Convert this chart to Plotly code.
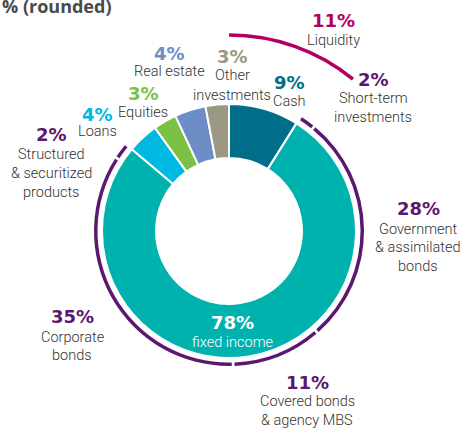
import plotly.graph_objects as go

W, H = 460, 431

# ---------------- data ----------------
slice_names = ["Cash", "Fixed income", "Loans", "Equities", "Real estate", "Other investments"]
slice_values = [9, 78, 4, 3, 4, 3]

fi_names = ["Short-term investments", "Government & assimilated bonds",
            "Covered bonds & agency MBS", "Corporate bonds",
            "Structured & securitized products"]
fi_values = [2, 28, 11, 35, 2]

liquidity_name = "Liquidity"
liquidity_value = 11
fixed_income_label = "fixed income"
title_text = "% (rounded)"

# ---------------- styles ----------------
slice_colors = ["#006e88", "#00b2ae", "#00b9e3", "#7bc143", "#6d8dc6", "#9b9883"]
purple = "#5c176e"
magenta = "#b1005f"
text_gray = "#333333"
pct_font = "DejaVu Sans"
desc_font = "Roboto, sans-serif"
desc_size = 14.5

cx, cy, Rpx = 229, 231, 200
r_in, r_out = 73, 127
arc_base, arc_w = 131.5, 3.5
liq_base = 194.3
gap = 1.2

total = sum(slice_values)
deg = 360.0 / total

# slice angles
starts, acc = [], 0
for v in slice_values:
    starts.append(acc * deg)
    acc += v
theta_c = [s + v * deg / 2 for s, v in zip(starts, slice_values)]
widths = [v * deg for v in slice_values]

# fixed income sub-arcs
fi_starts, acc = [], slice_values[0]
for v in fi_values:
    fi_starts.append(acc * deg)
    acc += v
fi_theta = [s + v * deg / 2 for s, v in zip(fi_starts, fi_values)]
fi_width = [v * deg - gap for v in fi_values]

fig = go.Figure()
fig.add_trace(go.Barpolar(
    theta=theta_c, width=widths, r=[r_out - r_in] * len(slice_values),
    base=[r_in] * len(slice_values),
    marker=dict(color=slice_colors, line=dict(color="white", width=2)),
    hoverinfo="skip", name="slices"))
fig.add_trace(go.Barpolar(
    theta=fi_theta, width=fi_width, r=[arc_w] * len(fi_values),
    base=[arc_base] * len(fi_values),
    marker=dict(color=purple, line=dict(width=0)),
    hoverinfo="skip", name="fixed income"))
fig.add_trace(go.Barpolar(
    theta=[liquidity_value * deg / 2], width=[liquidity_value * deg],
    r=[arc_w], base=[liq_base],
    marker=dict(color=magenta, line=dict(width=0)),
    hoverinfo="skip", name="liquidity"))

# ---------------- labels ----------------
def px2paper(x, y):
    return x / W, 1 - y / H

anns = []

def add_label(pct, pct_color, px, py, lines, line_y0, spacing=19, desc_color=text_gray):
    x, y = px2paper(px, py)
    anns.append(dict(x=x, y=y, xref="paper", yref="paper", showarrow=False,
                     xanchor="center", yanchor="middle",
                     text=f"<b>{pct}%</b>",
                     font=dict(family=pct_font, size=18, color=pct_color)))
    for i, ln in enumerate(lines):
        x, y = px2paper(px, line_y0 + i * spacing)
        anns.append(dict(x=x, y=y, xref="paper", yref="paper", showarrow=False,
                         xanchor="center", yanchor="middle", text=ln,
                         font=dict(family=desc_font, size=desc_size,
                                   color=desc_color, weight=300)))

add_label(liquidity_value, magenta, 333, 20, [liquidity_name], 40)
add_label(fi_values[0], purple, 373, 79, ["Short-term", "investments"], 99)
add_label(slice_values[0], slice_colors[0], 289, 82, ["Cash"], 102)
add_label(slice_values[5], slice_colors[5], 232, 56, ["Other", "investments"], 76)
add_label(slice_values[4], slice_colors[4], 169, 53, ["Real estate"], 71)
add_label(slice_values[3], slice_colors[3], 143, 94, ["Equities"], 113)
add_label(slice_values[2], slice_colors[2], 97, 115, ["Loans"], 131)
add_label(fi_values[4], purple, 51, 135, ["Structured", "& securitized", "products"], 154)
add_label(fi_values[1], purple, 418, 209, ["Government", "& assimilated", "bonds"], 229, 18.5)
add_label(fi_values[3], purple, 72, 316, ["Corporate", "bonds"], 337, 18)
add_label(slice_values[1], "white", 232, 322, [fixed_income_label], 342, desc_color="white")
add_label(fi_values[2], purple, 307, 382, ["Covered bonds", "& agency MBS"], 401)

x, y = px2paper(0, 6)
anns.append(dict(x=x, y=y, xref="paper", yref="paper", showarrow=False,
                 xanchor="left", yanchor="middle", text=f"<b>{title_text}</b>",
                 font=dict(family="Open Sans", size=18, color="#4a4a4a")))

fig.update_layout(
    width=W, height=H, margin=dict(l=0, r=0, t=0, b=0),
    paper_bgcolor="white", showlegend=False,
    polar=dict(
        domain=dict(x=[(cx - Rpx) / W, (cx + Rpx) / W], y=[1 - (cy + Rpx) / H, 1 - (cy - Rpx) / H]),
        bgcolor="white",
        bargap=0,
        angularaxis=dict(rotation=90, direction="clockwise", showgrid=False,
                         showline=False, showticklabels=False, ticks=""),
        radialaxis=dict(range=[0, Rpx], visible=False, showgrid=False),
    ),
    annotations=anns,
)

fig.write_html("out.html", config={"displayModeBar": False},
               post_script="document.body.style.margin='0';document.body.style.overflow='hidden';")
